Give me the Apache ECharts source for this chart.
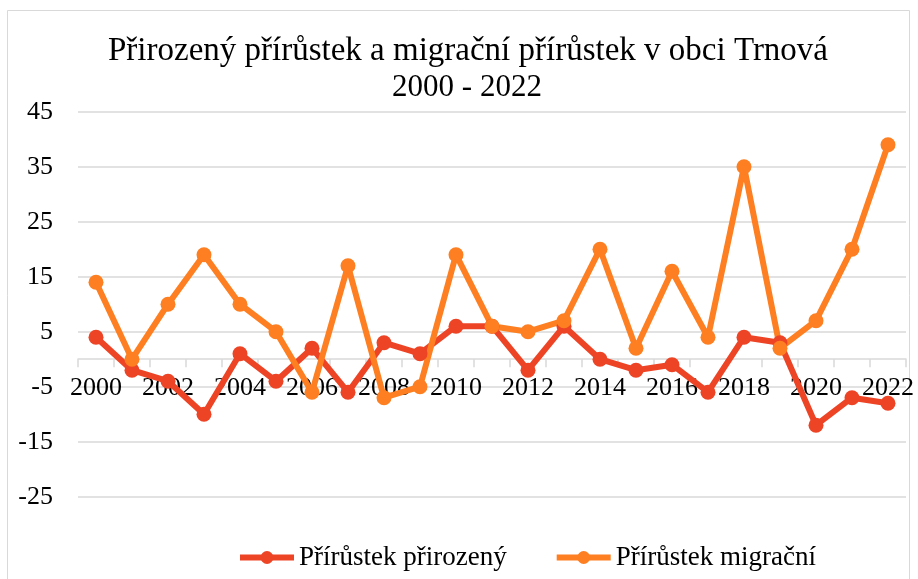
<!DOCTYPE html>
<html>
<head>
<meta charset="utf-8">
<script src="https://cdn.jsdelivr.net/npm/echarts@6/dist/echarts.min.js"></script>
<style>html,body{margin:0;padding:0;background:#fff}#c{width:918px;height:579px}</style>
</head>
<body>
<div id="c"></div>
<script>
const years = ['2000','2001','2002','2003','2004','2005','2006','2007','2008','2009','2010','2011','2012','2013','2014','2015','2016','2017','2018','2019','2020','2021','2022'];
const prirozeny = [4,-2,-4,-10,1,-4,2,-6,3,1,6,6,-2,6,0,-2,-1,-6,4,3,-12,-7,-8];
const migracni = [14,0,10,19,10,5,-6,17,-7,-5,19,6,5,7,20,2,16,4,35,2,7,20,39];
const seriesNames = ['Přírůstek přirozený','Přírůstek migrační'];
const titleLines = ['Přirozený přírůstek a migrační přírůstek v obci Trnová','2000 - 2022'];

const FONT = '"Liberation Serif","Times New Roman",serif';
const RED = '#EE4426';
const ORANGE = '#FD7F21';
const chart = echarts.init(document.getElementById('c'));
const mkSeries = (name, data, color) => ({
  name, type: 'line', data,
  symbol: 'circle', symbolSize: 15,
  lineStyle: { color: color, width: 6 },
  itemStyle: { color: color },
  emphasis: { disabled: true },
  animation: false
});
chart.setOption({
  animation: false,
  graphic: [
    { type: 'rect', shape: { x: 7.5, y: 10.5, width: 902, height: 600 }, style: { fill: 'none', stroke: '#d9d9d9', lineWidth: 1 } },
    { type: 'text', x: 468, y: 51, style: { text: titleLines[0], textAlign: 'center', textVerticalAlign: 'middle', font: '33px ' + FONT, fill: '#000' } },
    { type: 'text', x: 467, y: 88, style: { text: titleLines[1], textAlign: 'center', textVerticalAlign: 'middle', font: '31px ' + FONT, fill: '#000' } }
  ],
  grid: { left: 78, right: 12, top: 111.7, bottom: 82.3, containLabel: false },
  legend: {
    left: 232, top: 539,
    itemWidth: 54, itemHeight: 16, itemGap: 47,
    lineStyle: { width: 6 },
    textStyle: { fontFamily: FONT, fontSize: 27, color: '#000' },
    data: seriesNames
  },
  xAxis: {
    type: 'category', data: years, boundaryGap: true,
    offset: -137.5,
    axisLine: { onZero: false, lineStyle: { color: '#d9d9d9', width: 1.5 } },
    axisTick: { show: true, interval: 0, length: 8, lineStyle: { color: '#d9d9d9', width: 1.5 } },
    axisLabel: { interval: 1, margin: 16, fontFamily: FONT, fontSize: 26, color: '#000' },
    splitLine: { show: false }
  },
  yAxis: {
    type: 'value', min: -25, max: 45, interval: 10,
    axisLine: { show: false }, axisTick: { show: false },
    axisLabel: { margin: 25, fontFamily: FONT, fontSize: 26, color: '#000' },
    splitLine: { lineStyle: { color: '#d9d9d9', width: 1.5 } }
  },
  series: [
    mkSeries(seriesNames[0], prirozeny, RED),
    mkSeries(seriesNames[1], migracni, ORANGE)
  ]
});
</script>
</body>
</html>
